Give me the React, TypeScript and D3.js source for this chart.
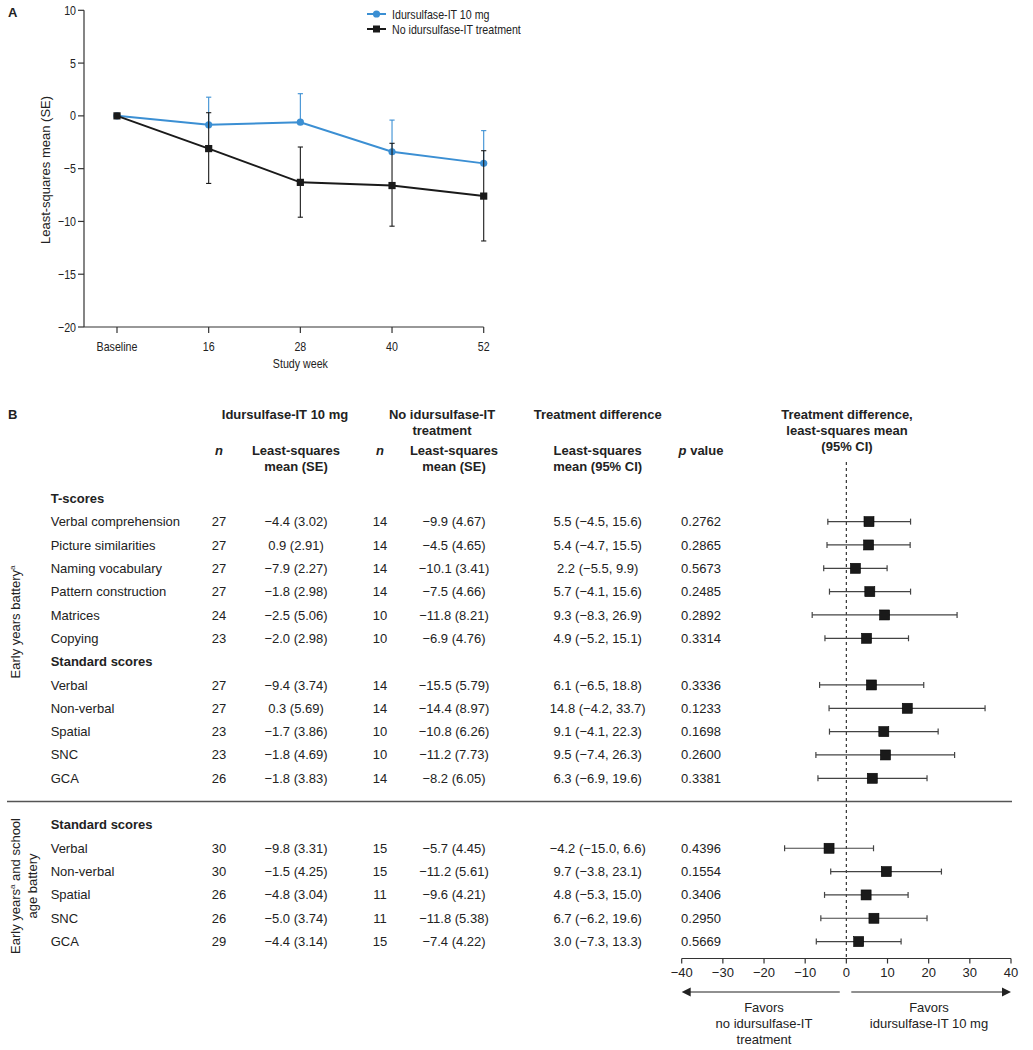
import React from "react";
import * as d3 from "d3";

// ---------- Panel A data ----------
const weeks = ["Baseline", "16", "28", "40", "52"];
const idurMean = [0, -0.85, -0.6, -3.4, -4.5];
const idurUpper = [0, 1.77, 2.1, -0.4, -1.4];
const noMean = [0, -3.1, -6.3, -6.6, -7.6];
const noUpper = [0, 0.3, -2.95, -2.6, -3.3];
const noLower = [0, -6.4, -9.6, -10.45, -11.85];
const yTicksA = [10, 5, 0, -5, -10, -15, -20];
const legendLabels = ["Idursulfase-IT 10 mg", "No idursulfase-IT treatment"];

// ---------- Panel B data ----------
const sectionHeaders = ["T-scores", "Standard scores", "Standard scores"];
const sectionSizes = [6, 5, 5];
const outcomeLabels = [
  "Verbal comprehension", "Picture similarities", "Naming vocabulary", "Pattern construction", "Matrices", "Copying",
  "Verbal", "Non-verbal", "Spatial", "SNC", "GCA",
  "Verbal", "Non-verbal", "Spatial", "SNC", "GCA",
];
const nIdur = ["27", "27", "27", "27", "24", "23", "27", "27", "23", "23", "26", "30", "30", "26", "26", "29"];
const lsIdur = [
  "−4.4 (3.02)", "0.9 (2.91)", "−7.9 (2.27)", "−1.8 (2.98)", "−2.5 (5.06)", "−2.0 (2.98)",
  "−9.4 (3.74)", "0.3 (5.69)", "−1.7 (3.86)", "−1.8 (4.69)", "−1.8 (3.83)",
  "−9.8 (3.31)", "−1.5 (4.25)", "−4.8 (3.04)", "−5.0 (3.74)", "−4.4 (3.14)",
];
const nNo = ["14", "14", "14", "14", "10", "10", "14", "14", "10", "10", "14", "15", "15", "11", "11", "15"];
const lsNo = [
  "−9.9 (4.67)", "−4.5 (4.65)", "−10.1 (3.41)", "−7.5 (4.66)", "−11.8 (8.21)", "−6.9 (4.76)",
  "−15.5 (5.79)", "−14.4 (8.97)", "−10.8 (6.26)", "−11.2 (7.73)", "−8.2 (6.05)",
  "−5.7 (4.45)", "−11.2 (5.61)", "−9.6 (4.21)", "−11.8 (5.38)", "−7.4 (4.22)",
];
const diffMean = [5.5, 5.4, 2.2, 5.7, 9.3, 4.9, 6.1, 14.8, 9.1, 9.5, 6.3, -4.2, 9.7, 4.8, 6.7, 3.0];
const diffLow = [-4.5, -4.7, -5.5, -4.1, -8.3, -5.2, -6.5, -4.2, -4.1, -7.4, -6.9, -15.0, -3.8, -5.3, -6.2, -7.3];
const diffHigh = [15.6, 15.5, 9.9, 15.6, 26.9, 15.1, 18.8, 33.7, 22.3, 26.3, 19.6, 6.6, 23.1, 15.0, 19.6, 13.3];
const pValues = [
  "0.2762", "0.2865", "0.5673", "0.2485", "0.2892", "0.3314",
  "0.3336", "0.1233", "0.1698", "0.2600", "0.3381",
  "0.4396", "0.1554", "0.3406", "0.2950", "0.5669",
];
const forestTicks = [-40, -30, -20, -10, 0, 10, 20, 30, 40];

const BLUE = "#3b8fd3";
const DARK = "#1a1a1a";
const fontB = "'Liberation Sans', Arial, sans-serif";
const SQUEEZE = 0.82;

const fmt = (v: number) => (v < 0 ? "−" + Math.abs(v) : String(v));
const fmt1 = (v: number) => (v < 0 ? "−" + Math.abs(v).toFixed(1) : v.toFixed(1));

// condensed text used in panel A
function NText(props: { x: number; y: number; anchor?: string; rotate?: number; squeeze?: number; children: React.ReactNode }) {
  const { x, y, anchor = "start", rotate = 0, squeeze = SQUEEZE, children } = props;
  return (
    <text
      transform={`translate(${x},${y}) rotate(${rotate}) scale(${squeeze},1)`}
      textAnchor={anchor}
      dy="0.35em"
    >
      {children}
    </text>
  );
}

function PanelA() {
  const x = d3.scalePoint<string>().domain(weeks).range([117, 483.7]);
  const y = d3.scaleLinear().domain([-20, 10]).range([327, 10.3]);
  const line = d3
    .line<number>()
    .x((_, i) => x(weeks[i]) as number)
    .y((d) => y(d));
  const x0 = 84;
  const cap = 2.6;
  return (
    <g fontFamily={fontB} fontSize={13} fill="#222">
      <text x={8} y={17} fontWeight="bold" fontSize={13}>A</text>
      {/* y axis */}
      <line x1={x0} x2={x0} y1={y(10)} y2={y(-20)} stroke="#333" strokeWidth={1.2} />
      {yTicksA.map((t) => (
        <g key={t}>
          <line x1={x0 - 6} x2={x0} y1={y(t)} y2={y(t)} stroke="#333" strokeWidth={1.2} />
          <NText x={x0 - 8} y={y(t)} anchor="end">{fmt(t)}</NText>
        </g>
      ))}
      <NText x={45} y={170} anchor="middle" rotate={-90} squeeze={1}>Least-squares mean (SE)</NText>
      {/* x axis */}
      <line x1={x0} x2={x(weeks[weeks.length - 1])} y1={y(-20)} y2={y(-20)} stroke="#333" strokeWidth={1.2} />
      {weeks.map((w) => (
        <g key={w}>
          <line x1={x(w)} x2={x(w)} y1={y(-20)} y2={y(-20) + 6} stroke="#333" strokeWidth={1.2} />
          <NText x={x(w) as number} y={y(-20) + 19} anchor="middle">{w}</NText>
        </g>
      ))}
      <NText x={x("28") as number} y={363} anchor="middle">Study week</NText>
      {/* blue series */}
      {weeks.map((w, i) =>
        i === 0 ? null : (
          <g key={"be" + w} stroke={BLUE} strokeWidth={1.1}>
            <line x1={x(w)} x2={x(w)} y1={y(idurUpper[i])} y2={y(idurMean[i])} />
            <line x1={(x(w) as number) - cap} x2={(x(w) as number) + cap} y1={y(idurUpper[i])} y2={y(idurUpper[i])} />
          </g>
        )
      )}
      <path d={line(idurMean) as string} fill="none" stroke={BLUE} strokeWidth={2} />
      {weeks.map((w, i) => (
        <circle key={"bc" + w} cx={x(w)} cy={y(idurMean[i])} r={3.6} fill={BLUE} />
      ))}
      {/* black series */}
      {weeks.map((w, i) =>
        i === 0 ? null : (
          <g key={"ke" + w} stroke={DARK} strokeWidth={1.1}>
            <line x1={x(w)} x2={x(w)} y1={y(noUpper[i])} y2={y(noLower[i])} />
            <line x1={(x(w) as number) - cap} x2={(x(w) as number) + cap} y1={y(noUpper[i])} y2={y(noUpper[i])} />
            <line x1={(x(w) as number) - cap} x2={(x(w) as number) + cap} y1={y(noLower[i])} y2={y(noLower[i])} />
          </g>
        )
      )}
      <path d={line(noMean) as string} fill="none" stroke={DARK} strokeWidth={2} />
      {weeks.map((w, i) => (
        <rect key={"kr" + w} x={(x(w) as number) - 3.6} y={y(noMean[i]) - 3.6} width={7.2} height={7.2} fill={DARK} />
      ))}
      {/* legend */}
      {legendLabels.map((l, i) => (
        <g key={l}>
          <line x1={367} x2={386} y1={14 + i * 15} y2={14 + i * 15} stroke={i === 0 ? BLUE : DARK} strokeWidth={2} />
          {i === 0 ? (
            <circle cx={376.5} cy={14} r={3.6} fill={BLUE} />
          ) : (
            <rect x={373} y={29 - 3.5} width={7} height={7} fill={DARK} />
          )}
          <NText x={392} y={14 + i * 15}>{l}</NText>
        </g>
      ))}
    </g>
  );
}

function PanelB() {
  // row slots: section header then its outcomes; blank slot separates batteries
  const slots: { kind: "header" | "row"; idx: number; slot: number }[] = [];
  let slot = 0;
  let r = 0;
  sectionHeaders.forEach((h, s) => {
    if (s === 2) slot += 1;
    slots.push({ kind: "header", idx: s, slot: slot++ });
    for (let k = 0; k < sectionSizes[s]; k++) slots.push({ kind: "row", idx: r++, slot: slot++ });
  });
  const yRow = d3.scaleLinear().domain([0, 19]).range([498.3, 941.6]);
  const xf = d3.scaleLinear().domain([-40, 40]).range([681.7, 1011]);
  const axisY = 958.5;
  const sepY = yRow(13);
  const colLabel = 50.7;
  const colN1 = 219;
  const colLS1 = 296;
  const colN2 = 380;
  const colLS2 = 454;
  const colDiff = 597.7;
  const colP = 701;
  return (
    <g fontFamily={fontB} fontSize={13} fill="#222">
      <text x={8} y={414} dy="0.35em" fontWeight="bold">B</text>
      {/* headers */}
      <g fontWeight="bold" textAnchor="middle">
        <text x={285} y={414} dy="0.35em">Idursulfase-IT 10 mg</text>
        <text x={442} y={414} dy="0.35em">No idursulfase-IT</text>
        <text x={442} y={430} dy="0.35em">treatment</text>
        <text x={colDiff} y={414} dy="0.35em">Treatment difference</text>
        <text x={847} y={414} dy="0.35em">Treatment difference,</text>
        <text x={847} y={430} dy="0.35em">least-squares mean</text>
        <text x={847} y={446} dy="0.35em">(95% CI)</text>
        <text x={colN1} y={450} dy="0.35em" fontStyle="italic">n</text>
        <text x={colLS1} y={450} dy="0.35em">Least-squares</text>
        <text x={colLS1} y={466} dy="0.35em">mean (SE)</text>
        <text x={colN2} y={450} dy="0.35em" fontStyle="italic">n</text>
        <text x={colLS2} y={450} dy="0.35em">Least-squares</text>
        <text x={colLS2} y={466} dy="0.35em">mean (SE)</text>
        <text x={colDiff} y={450} dy="0.35em">Least-squares</text>
        <text x={colDiff} y={466} dy="0.35em">mean (95% CI)</text>
        <text x={colP} y={450} dy="0.35em">
          <tspan fontStyle="italic">p</tspan> value
        </text>
      </g>
      {/* battery labels */}
      <text transform="translate(15,622) rotate(-90)" textAnchor="middle" dy="0.35em">
        Early years battery<tspan fontSize={8} dy="-5">a</tspan>
      </text>
      <text transform="translate(15,886) rotate(-90)" textAnchor="middle" dy="0.35em">
        Early years<tspan fontSize={8} dy="-5">a</tspan>
        <tspan dy="5"> and school</tspan>
      </text>
      <text transform="translate(32,886) rotate(-90)" textAnchor="middle" dy="0.35em">age battery</text>
      {/* separator */}
      <line x1={7} x2={1012} y1={sepY} y2={sepY} stroke="#555" strokeWidth={1.5} />
      {/* zero line */}
      <line x1={xf(0)} x2={xf(0)} y1={462} y2={axisY} stroke="#333" strokeWidth={1.2} strokeDasharray="3,3" />
      {slots.map((s) =>
        s.kind === "header" ? (
          <text key={"h" + s.slot} x={colLabel} y={yRow(s.slot)} dy="0.35em" fontWeight="bold">
            {sectionHeaders[s.idx]}
          </text>
        ) : (
          <g key={"r" + s.slot}>
            <text x={colLabel} y={yRow(s.slot)} dy="0.35em">{outcomeLabels[s.idx]}</text>
            <text x={colN1} y={yRow(s.slot)} dy="0.35em" textAnchor="middle">{nIdur[s.idx]}</text>
            <text x={colLS1} y={yRow(s.slot)} dy="0.35em" textAnchor="middle">{lsIdur[s.idx]}</text>
            <text x={colN2} y={yRow(s.slot)} dy="0.35em" textAnchor="middle">{nNo[s.idx]}</text>
            <text x={colLS2} y={yRow(s.slot)} dy="0.35em" textAnchor="middle">{lsNo[s.idx]}</text>
            <text x={colDiff} y={yRow(s.slot)} dy="0.35em" textAnchor="middle">
              {`${fmt1(diffMean[s.idx])} (${fmt1(diffLow[s.idx])}, ${fmt1(diffHigh[s.idx])})`}
            </text>
            <text x={colP} y={yRow(s.slot)} dy="0.35em" textAnchor="middle">{pValues[s.idx]}</text>
            <g stroke="#444" strokeWidth={1.2}>
              <line x1={xf(diffLow[s.idx])} x2={xf(diffHigh[s.idx])} y1={yRow(s.slot)} y2={yRow(s.slot)} />
              <line x1={xf(diffLow[s.idx])} x2={xf(diffLow[s.idx])} y1={yRow(s.slot) - 3} y2={yRow(s.slot) + 3} />
              <line x1={xf(diffHigh[s.idx])} x2={xf(diffHigh[s.idx])} y1={yRow(s.slot) - 3} y2={yRow(s.slot) + 3} />
            </g>
            <rect x={xf(diffMean[s.idx]) - 5} y={yRow(s.slot) - 5} width={10} height={10} fill={DARK} stroke="#000" strokeWidth={0.6} />
          </g>
        )
      )}
      {/* forest axis */}
      <line x1={xf(-40)} x2={xf(40)} y1={axisY} y2={axisY} stroke="#333" strokeWidth={1.2} />
      {forestTicks.map((t) => (
        <g key={t}>
          <line x1={xf(t)} x2={xf(t)} y1={axisY} y2={axisY + 5} stroke="#333" strokeWidth={1.2} />
          <text x={xf(t)} y={972} dy="0.35em" textAnchor="middle">{fmt(t)}</text>
        </g>
      ))}
      {/* direction arrows */}
      <line x1={xf(-1.6)} x2={xf(-38)} y1={992} y2={992} stroke="#222" strokeWidth={1.2} />
      <path d={`M${xf(-40)},992 L${xf(-40) + 9},987.5 L${xf(-40) + 9},996.5 Z`} fill="#222" />
      <line x1={xf(1.2)} x2={xf(38)} y1={992} y2={992} stroke="#222" strokeWidth={1.2} />
      <path d={`M${xf(40)},992 L${xf(40) - 9},987.5 L${xf(40) - 9},996.5 Z`} fill="#222" />
      <g textAnchor="middle">
        <text x={764} y={1007} dy="0.35em">Favors</text>
        <text x={764} y={1023} dy="0.35em">no idursulfase-IT</text>
        <text x={764} y={1039} dy="0.35em">treatment</text>
        <text x={929} y={1007} dy="0.35em">Favors</text>
        <text x={929} y={1023} dy="0.35em">idursulfase-IT 10 mg</text>
      </g>
    </g>
  );
}

export default function App() {
  return (
    <svg
      width={1033}
      height={1050}
      style={{ position: "absolute", left: 0, top: 0, background: "#fff" }}
    >
      <rect width={1033} height={1050} fill="#fff" />
      <PanelA />
      <PanelB />
    </svg>
  );
}
